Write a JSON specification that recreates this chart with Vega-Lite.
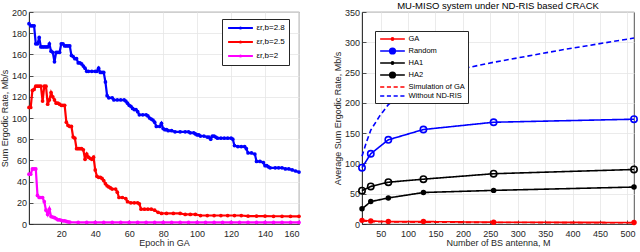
{
  "$schema": "https://vega.github.io/schema/vega-lite/v6.json",
  "padding": {"left": 0, "top": 0, "right": 2, "bottom": 0},
  "bounds": "flush",
  "spacing": 63,
  "background": "white",
  "resolve": {"scale": {"color": "independent", "strokeDash": "independent", "shape": "independent"}, "legend": {"color": "independent", "shape": "independent"}},
  "config": {
    "font": "Liberation Sans",
    "view": {"stroke": "#262626", "strokeWidth": 0.8},
    "axis": {
      "grid": true, "gridColor": "#e6e6e6", "gridWidth": 0.8,
      "domainColor": "#262626", "domainWidth": 0.8,
      "tickColor": "#262626", "tickSize": -4, "tickWidth": 0.8,
      "labelFontSize": 9, "labelColor": "#262626",
      "titleFontSize": 9, "titleFontWeight": "normal", "titleColor": "#262626"
    },
    "axisX": {"labelPadding": 9, "titlePadding": 0},
    "axisY": {"labelPadding": 6.5, "titlePadding": 2},
    "legend": {
      "strokeColor": "#262626", "fillColor": "white", "padding": 3,
      "labelFontSize": 7.5, "labelColor": "#000",
      "symbolStrokeWidth": 1.6, "title": null, "symbolSize": 56, "symbolOpacity": 1,
      "symbolOffset": 9.5, "labelOffset": 11
    },
    "title": {"fontSize": 9.5, "fontWeight": "normal", "color": "#000", "offset": -2}
  },
  "datasets": {
    "ga": [
      {"e":1,"v":189,"s":"εr,b=2.8"},{"e":2,"v":187,"s":"εr,b=2.8"},{"e":3,"v":187,"s":"εr,b=2.8"},{"e":4,"v":187,"s":"εr,b=2.8"},{"e":5,"v":170,"s":"εr,b=2.8"},{"e":6,"v":170,"s":"εr,b=2.8"},{"e":7,"v":176,"s":"εr,b=2.8"},{"e":8,"v":167,"s":"εr,b=2.8"},{"e":9,"v":167,"s":"εr,b=2.8"},{"e":10,"v":167,"s":"εr,b=2.8"},{"e":11,"v":167,"s":"εr,b=2.8"},{"e":12,"v":167,"s":"εr,b=2.8"},{"e":13,"v":170,"s":"εr,b=2.8"},{"e":14,"v":163,"s":"εr,b=2.8"},{"e":15,"v":162,"s":"εr,b=2.8"},{"e":16,"v":153,"s":"εr,b=2.8"},{"e":17,"v":162,"s":"εr,b=2.8"},{"e":18,"v":162,"s":"εr,b=2.8"},{"e":19,"v":162,"s":"εr,b=2.8"},{"e":20,"v":170,"s":"εr,b=2.8"},{"e":21,"v":170,"s":"εr,b=2.8"},{"e":22,"v":168,"s":"εr,b=2.8"},{"e":23,"v":168,"s":"εr,b=2.8"},{"e":24,"v":168,"s":"εr,b=2.8"},{"e":25,"v":168,"s":"εr,b=2.8"},{"e":26,"v":159,"s":"εr,b=2.8"},{"e":27,"v":158,"s":"εr,b=2.8"},{"e":28,"v":156,"s":"εr,b=2.8"},{"e":29,"v":156,"s":"εr,b=2.8"},{"e":30,"v":152,"s":"εr,b=2.8"},{"e":31,"v":152,"s":"εr,b=2.8"},{"e":32,"v":151,"s":"εr,b=2.8"},{"e":33,"v":149,"s":"εr,b=2.8"},{"e":34,"v":147,"s":"εr,b=2.8"},{"e":35,"v":144,"s":"εr,b=2.8"},{"e":36,"v":144,"s":"εr,b=2.8"},{"e":38,"v":144,"s":"εr,b=2.8"},{"e":40,"v":144,"s":"εr,b=2.8"},{"e":41,"v":144,"s":"εr,b=2.8"},{"e":42,"v":147,"s":"εr,b=2.8"},{"e":43,"v":143,"s":"εr,b=2.8"},{"e":44,"v":143,"s":"εr,b=2.8"},{"e":45,"v":143,"s":"εr,b=2.8"},{"e":46,"v":134,"s":"εr,b=2.8"},{"e":47,"v":121,"s":"εr,b=2.8"},{"e":48,"v":119,"s":"εr,b=2.8"},{"e":50,"v":119,"s":"εr,b=2.8"},{"e":51,"v":117,"s":"εr,b=2.8"},{"e":53,"v":117,"s":"εr,b=2.8"},{"e":55,"v":117,"s":"εr,b=2.8"},{"e":57,"v":117,"s":"εr,b=2.8"},{"e":58,"v":116,"s":"εr,b=2.8"},{"e":59,"v":114,"s":"εr,b=2.8"},{"e":60,"v":112,"s":"εr,b=2.8"},{"e":61,"v":111,"s":"εr,b=2.8"},{"e":62,"v":109,"s":"εr,b=2.8"},{"e":63,"v":108,"s":"εr,b=2.8"},{"e":64,"v":108,"s":"εr,b=2.8"},{"e":65,"v":106,"s":"εr,b=2.8"},{"e":66,"v":103,"s":"εr,b=2.8"},{"e":68,"v":103,"s":"εr,b=2.8"},{"e":70,"v":103,"s":"εr,b=2.8"},{"e":71,"v":102,"s":"εr,b=2.8"},{"e":72,"v":100,"s":"εr,b=2.8"},{"e":73,"v":99,"s":"εr,b=2.8"},{"e":74,"v":98,"s":"εr,b=2.8"},{"e":75,"v":96,"s":"εr,b=2.8"},{"e":76,"v":92,"s":"εr,b=2.8"},{"e":78,"v":92,"s":"εr,b=2.8"},{"e":79,"v":95,"s":"εr,b=2.8"},{"e":80,"v":90,"s":"εr,b=2.8"},{"e":81,"v":89,"s":"εr,b=2.8"},{"e":82,"v":89,"s":"εr,b=2.8"},{"e":83,"v":88,"s":"εr,b=2.8"},{"e":85,"v":88,"s":"εr,b=2.8"},{"e":87,"v":87,"s":"εr,b=2.8"},{"e":90,"v":87,"s":"εr,b=2.8"},{"e":93,"v":87,"s":"εr,b=2.8"},{"e":95,"v":87,"s":"εr,b=2.8"},{"e":96,"v":86,"s":"εr,b=2.8"},{"e":98,"v":86,"s":"εr,b=2.8"},{"e":99,"v":85,"s":"εr,b=2.8"},{"e":100,"v":84,"s":"εr,b=2.8"},{"e":101,"v":84,"s":"εr,b=2.8"},{"e":102,"v":83,"s":"εr,b=2.8"},{"e":104,"v":83,"s":"εr,b=2.8"},{"e":106,"v":82,"s":"εr,b=2.8"},{"e":107,"v":82,"s":"εr,b=2.8"},{"e":108,"v":80,"s":"εr,b=2.8"},{"e":109,"v":83,"s":"εr,b=2.8"},{"e":110,"v":83,"s":"εr,b=2.8"},{"e":111,"v":82,"s":"εr,b=2.8"},{"e":112,"v":81,"s":"εr,b=2.8"},{"e":114,"v":81,"s":"εr,b=2.8"},{"e":116,"v":81,"s":"εr,b=2.8"},{"e":118,"v":81,"s":"εr,b=2.8"},{"e":120,"v":81,"s":"εr,b=2.8"},{"e":121,"v":80,"s":"εr,b=2.8"},{"e":122,"v":74,"s":"εr,b=2.8"},{"e":124,"v":73,"s":"εr,b=2.8"},{"e":126,"v":73,"s":"εr,b=2.8"},{"e":128,"v":73,"s":"εr,b=2.8"},{"e":129,"v":71,"s":"εr,b=2.8"},{"e":130,"v":67,"s":"εr,b=2.8"},{"e":132,"v":67,"s":"εr,b=2.8"},{"e":134,"v":66,"s":"εr,b=2.8"},{"e":135,"v":59,"s":"εr,b=2.8"},{"e":137,"v":59,"s":"εr,b=2.8"},{"e":139,"v":58,"s":"εr,b=2.8"},{"e":140,"v":55,"s":"εr,b=2.8"},{"e":141,"v":55,"s":"εr,b=2.8"},{"e":142,"v":54,"s":"εr,b=2.8"},{"e":143,"v":53,"s":"εr,b=2.8"},{"e":146,"v":53,"s":"εr,b=2.8"},{"e":148,"v":53,"s":"εr,b=2.8"},{"e":150,"v":53,"s":"εr,b=2.8"},{"e":152,"v":52,"s":"εr,b=2.8"},{"e":154,"v":52,"s":"εr,b=2.8"},{"e":156,"v":51,"s":"εr,b=2.8"},{"e":158,"v":50,"s":"εr,b=2.8"},{"e":160,"v":49,"s":"εr,b=2.8"},

      {"e":1,"v":110,"s":"εr,b=2.5"},{"e":2,"v":110,"s":"εr,b=2.5"},{"e":3,"v":126,"s":"εr,b=2.5"},{"e":4,"v":127,"s":"εr,b=2.5"},{"e":5,"v":130,"s":"εr,b=2.5"},{"e":6,"v":130,"s":"εr,b=2.5"},{"e":7,"v":130,"s":"εr,b=2.5"},{"e":8,"v":130,"s":"εr,b=2.5"},{"e":9,"v":116,"s":"εr,b=2.5"},{"e":10,"v":130,"s":"εr,b=2.5"},{"e":11,"v":130,"s":"εr,b=2.5"},{"e":12,"v":113,"s":"εr,b=2.5"},{"e":13,"v":117,"s":"εr,b=2.5"},{"e":14,"v":124,"s":"εr,b=2.5"},{"e":15,"v":120,"s":"εr,b=2.5"},{"e":16,"v":117,"s":"εr,b=2.5"},{"e":17,"v":114,"s":"εr,b=2.5"},{"e":18,"v":114,"s":"εr,b=2.5"},{"e":19,"v":113,"s":"εr,b=2.5"},{"e":20,"v":112,"s":"εr,b=2.5"},{"e":21,"v":112,"s":"εr,b=2.5"},{"e":22,"v":112,"s":"εr,b=2.5"},{"e":23,"v":96,"s":"εr,b=2.5"},{"e":24,"v":93,"s":"εr,b=2.5"},{"e":25,"v":92,"s":"εr,b=2.5"},{"e":26,"v":92,"s":"εr,b=2.5"},{"e":27,"v":82,"s":"εr,b=2.5"},{"e":28,"v":81,"s":"εr,b=2.5"},{"e":29,"v":71,"s":"εr,b=2.5"},{"e":30,"v":71,"s":"εr,b=2.5"},{"e":31,"v":71,"s":"εr,b=2.5"},{"e":32,"v":71,"s":"εr,b=2.5"},{"e":33,"v":70,"s":"εr,b=2.5"},{"e":34,"v":61,"s":"εr,b=2.5"},{"e":35,"v":66,"s":"εr,b=2.5"},{"e":36,"v":63,"s":"εr,b=2.5"},{"e":37,"v":62,"s":"εr,b=2.5"},{"e":38,"v":61,"s":"εr,b=2.5"},{"e":39,"v":63,"s":"εr,b=2.5"},{"e":40,"v":51,"s":"εr,b=2.5"},{"e":41,"v":45,"s":"εr,b=2.5"},{"e":42,"v":44,"s":"εr,b=2.5"},{"e":43,"v":44,"s":"εr,b=2.5"},{"e":44,"v":43,"s":"εr,b=2.5"},{"e":45,"v":41,"s":"εr,b=2.5"},{"e":46,"v":38,"s":"εr,b=2.5"},{"e":47,"v":36,"s":"εr,b=2.5"},{"e":48,"v":35,"s":"εr,b=2.5"},{"e":49,"v":34,"s":"εr,b=2.5"},{"e":50,"v":33,"s":"εr,b=2.5"},{"e":52,"v":33,"s":"εr,b=2.5"},{"e":53,"v":30,"s":"εr,b=2.5"},{"e":54,"v":25,"s":"εr,b=2.5"},{"e":56,"v":25,"s":"εr,b=2.5"},{"e":58,"v":24,"s":"εr,b=2.5"},{"e":59,"v":21,"s":"εr,b=2.5"},{"e":61,"v":20,"s":"εr,b=2.5"},{"e":63,"v":20,"s":"εr,b=2.5"},{"e":65,"v":20,"s":"εr,b=2.5"},{"e":66,"v":19,"s":"εr,b=2.5"},{"e":67,"v":14,"s":"εr,b=2.5"},{"e":69,"v":14,"s":"εr,b=2.5"},{"e":71,"v":14,"s":"εr,b=2.5"},{"e":73,"v":14,"s":"εr,b=2.5"},{"e":75,"v":13,"s":"εr,b=2.5"},{"e":77,"v":11,"s":"εr,b=2.5"},{"e":79,"v":10,"s":"εr,b=2.5"},{"e":82,"v":10,"s":"εr,b=2.5"},{"e":86,"v":10,"s":"εr,b=2.5"},{"e":90,"v":10,"s":"εr,b=2.5"},{"e":93,"v":9,"s":"εr,b=2.5"},{"e":96,"v":9,"s":"εr,b=2.5"},{"e":99,"v":9,"s":"εr,b=2.5"},{"e":102,"v":8,"s":"εr,b=2.5"},{"e":106,"v":8,"s":"εr,b=2.5"},{"e":110,"v":8,"s":"εr,b=2.5"},{"e":114,"v":8,"s":"εr,b=2.5"},{"e":118,"v":8,"s":"εr,b=2.5"},{"e":122,"v":8,"s":"εr,b=2.5"},{"e":126,"v":8,"s":"εr,b=2.5"},{"e":130,"v":7.5,"s":"εr,b=2.5"},{"e":135,"v":7.5,"s":"εr,b=2.5"},{"e":140,"v":7.5,"s":"εr,b=2.5"},{"e":145,"v":7.3,"s":"εr,b=2.5"},{"e":150,"v":7.3,"s":"εr,b=2.5"},{"e":155,"v":7.2,"s":"εr,b=2.5"},{"e":160,"v":7.2,"s":"εr,b=2.5"},

      {"e":1,"v":47,"s":"εr,b=2"},{"e":2,"v":47,"s":"εr,b=2"},{"e":3,"v":52,"s":"εr,b=2"},{"e":4,"v":52,"s":"εr,b=2"},{"e":5,"v":52,"s":"εr,b=2"},{"e":6,"v":27,"s":"εr,b=2"},{"e":7,"v":25,"s":"εr,b=2"},{"e":8,"v":25,"s":"εr,b=2"},{"e":9,"v":25,"s":"εr,b=2"},{"e":10,"v":21,"s":"εr,b=2"},{"e":11,"v":13,"s":"εr,b=2"},{"e":12,"v":9,"s":"εr,b=2"},{"e":13,"v":14,"s":"εr,b=2"},{"e":14,"v":7,"s":"εr,b=2"},{"e":15,"v":6.5,"s":"εr,b=2"},{"e":16,"v":6,"s":"εr,b=2"},{"e":17,"v":5,"s":"εr,b=2"},{"e":18,"v":4,"s":"εr,b=2"},{"e":19,"v":4,"s":"εr,b=2"},{"e":20,"v":3.5,"s":"εr,b=2"},{"e":21,"v":3,"s":"εr,b=2"},{"e":22,"v":3,"s":"εr,b=2"},{"e":23,"v":2.5,"s":"εr,b=2"},{"e":24,"v":2,"s":"εr,b=2"},{"e":25,"v":1.8,"s":"εr,b=2"},{"e":30,"v":1.5,"s":"εr,b=2"},{"e":35,"v":1.5,"s":"εr,b=2"},{"e":40,"v":1.5,"s":"εr,b=2"},{"e":45,"v":1.5,"s":"εr,b=2"},{"e":50,"v":1.5,"s":"εr,b=2"},{"e":55,"v":1.5,"s":"εr,b=2"},{"e":60,"v":1.5,"s":"εr,b=2"},{"e":65,"v":1.5,"s":"εr,b=2"},{"e":70,"v":1.5,"s":"εr,b=2"},{"e":75,"v":1.5,"s":"εr,b=2"},{"e":80,"v":1.5,"s":"εr,b=2"},{"e":85,"v":1.5,"s":"εr,b=2"},{"e":90,"v":1.5,"s":"εr,b=2"},{"e":95,"v":1.5,"s":"εr,b=2"},{"e":100,"v":1.5,"s":"εr,b=2"},{"e":105,"v":1.5,"s":"εr,b=2"},{"e":110,"v":1.5,"s":"εr,b=2"},{"e":115,"v":1.5,"s":"εr,b=2"},{"e":120,"v":1.5,"s":"εr,b=2"},{"e":125,"v":1.5,"s":"εr,b=2"},{"e":130,"v":1.5,"s":"εr,b=2"},{"e":135,"v":1.5,"s":"εr,b=2"},{"e":140,"v":1.5,"s":"εr,b=2"},{"e":145,"v":1.5,"s":"εr,b=2"},{"e":150,"v":1.5,"s":"εr,b=2"},{"e":155,"v":1.5,"s":"εr,b=2"},{"e":160,"v":1.5,"s":"εr,b=2"}
    ],
    "ant": [
      {"m":16,"v":6,"s":"GA","mk":"filled"},{"m":32,"v":5,"s":"GA","mk":"filled"},{"m":64,"v":4,"s":"GA","mk":"filled"},{"m":128,"v":4,"s":"GA","mk":"filled"},{"m":256,"v":3,"s":"GA","mk":"filled"},{"m":512,"v":2.5,"s":"GA","mk":"filled"},
      {"m":16,"v":93,"s":"Random","mk":"open"},{"m":32,"v":116,"s":"Random","mk":"open"},{"m":64,"v":139,"s":"Random","mk":"open"},{"m":128,"v":156,"s":"Random","mk":"open"},{"m":256,"v":168,"s":"Random","mk":"open"},{"m":512,"v":173,"s":"Random","mk":"open"},
      {"m":16,"v":25,"s":"HA1","mk":"filled"},{"m":32,"v":37,"s":"HA1","mk":"filled"},{"m":64,"v":43,"s":"HA1","mk":"filled"},{"m":128,"v":52,"s":"HA1","mk":"filled"},{"m":256,"v":55.5,"s":"HA1","mk":"filled"},{"m":512,"v":61,"s":"HA1","mk":"filled"},
      {"m":16,"v":55,"s":"HA2","mk":"open"},{"m":32,"v":62,"s":"HA2","mk":"open"},{"m":64,"v":69,"s":"HA2","mk":"open"},{"m":128,"v":74,"s":"HA2","mk":"open"},{"m":256,"v":83,"s":"HA2","mk":"open"},{"m":512,"v":90,"s":"HA2","mk":"open"},
      {"m":16,"v":5,"s":"Simulation of GA","mk":"none"},{"m":32,"v":4,"s":"Simulation of GA","mk":"none"},{"m":64,"v":3.5,"s":"Simulation of GA","mk":"none"},{"m":128,"v":3,"s":"Simulation of GA","mk":"none"},{"m":256,"v":2.5,"s":"Simulation of GA","mk":"none"},{"m":512,"v":2,"s":"Simulation of GA","mk":"none"},
      {"m":16,"v":112,"s":"Without ND-RIS","mk":"none"},{"m":24,"v":135,"s":"Without ND-RIS","mk":"none"},{"m":32,"v":155,"s":"Without ND-RIS","mk":"none"},{"m":48,"v":178,"s":"Without ND-RIS","mk":"none"},{"m":64,"v":197,"s":"Without ND-RIS","mk":"none"},{"m":96,"v":220,"s":"Without ND-RIS","mk":"none"},{"m":128,"v":236,"s":"Without ND-RIS","mk":"none"},{"m":192,"v":255,"s":"Without ND-RIS","mk":"none"},{"m":256,"v":267,"s":"Without ND-RIS","mk":"none"},{"m":384,"v":288,"s":"Without ND-RIS","mk":"none"},{"m":512,"v":307,"s":"Without ND-RIS","mk":"none"}
    ]
  },
  "hconcat": [
    {
      "width": 270, "height": 212,
      "data": {"name": "ga"},
      "encoding": {
        "x": {"field": "e", "type": "quantitative", "title": "Epoch in GA",
              "scale": {"domain": [1, 160], "nice": false},
              "axis": {"values": [20,40,60,80,100,120,140,160]}},
        "y": {"field": "v", "type": "quantitative", "title": "Sum Ergodic Rate, Mb/s",
              "scale": {"domain": [0, 200], "nice": false},
              "axis": {"values": [0,20,40,60,80,100,120,140,160,180,200]}},
        "color": {"field": "s", "type": "nominal",
                  "scale": {"domain": ["εr,b=2.8","εr,b=2.5","εr,b=2"], "range": ["#0000ff","#ff0000","#ff00ff"]},
                  "legend": {"orient": "none", "legendX": 193, "legendY": 7, "rowPadding": 4, "padding": 4, "labelFontSize": 8,
                             "symbolStrokeWidth": 2, "symbolSize": 64,
                             "symbolType": "M-3.1,0H3.1M0.15,0A0.15,0.15,0,1,1,-0.15,0A0.15,0.15,0,1,1,0.15,0",
                             "encode": {"symbols": {"update": {"fill": {"value": "transparent"}}}}}}
      },
      "layer": [
        {"mark": {"type": "line", "strokeWidth": 2.2}},
        {"mark": {"type": "point", "filled": true, "size": 14, "opacity": 1}}
      ]
    },
    {
      "width": 272, "height": 212,
      "title": "MU-MISO system under ND-RIS based CRACK",
      "data": {"name": "ant"},
      "encoding": {
        "x": {"field": "m", "type": "quantitative", "title": "Number of BS antenna, M",
              "scale": {"domain": [16, 512], "nice": false},
              "axis": {"values": [50,100,150,200,250,300,350,400,450,500]}},
        "y": {"field": "v", "type": "quantitative", "title": "Average Sum Ergodic Rate,  Mb/s",
              "scale": {"domain": [0, 350], "nice": false},
              "axis": {"values": [0,50,100,150,200,250,300,350]}},
        "color": {"field": "s", "type": "nominal",
                  "scale": {"domain": ["GA","Random","HA1","HA2","Simulation of GA","Without ND-RIS"],
                            "range": ["#ff0000","#0000ff","#000000","#000000","#ff0000","#0000ff"]},
                  "legend": {"orient": "none", "legendX": 13, "legendY": 19, "rowPadding": 0,
                             "encode": {"symbols": {"update": {"fill": {"value": "transparent"}}}}}}
      },
      "layer": [
        {"mark": {"type": "line", "strokeWidth": 1.6},
         "encoding": {"strokeDash": {"field": "s", "type": "nominal",
                      "scale": {"domain": ["Without ND-RIS","Simulation of GA","HA2","HA1","Random","GA"],
                                "range": [[5,3],[5,3],[1,0],[1,0],[1,0],[1,0]]},
                      "legend": null}}},
        {"mark": {"type": "point", "filled": false, "strokeWidth": 1.6, "opacity": 0},
         "encoding": {
           "shape": {"field": "s", "type": "nominal",
                     "scale": {"domain": ["GA","Random","HA1","HA2","Simulation of GA","Without ND-RIS"],
                               "range": [
                                 "M-3.3,0H3.3M0.3,0A0.3,0.3,0,1,1,-0.3,0A0.3,0.3,0,1,1,0.3,0",
                                 "M-3.3,0H3.3M0.75,0A0.75,0.75,0,1,1,-0.75,0A0.75,0.75,0,1,1,0.75,0",
                                 "M-3.3,0H3.3M0.3,0A0.3,0.3,0,1,1,-0.3,0A0.3,0.3,0,1,1,0.3,0",
                                 "M-3.3,0H3.3M0.75,0A0.75,0.75,0,1,1,-0.75,0A0.75,0.75,0,1,1,0.75,0",
                                 "M-3.3,0H-2.2M-1.5,0H-0.4M0.3,0H1.4M2.1,0H3.2",
                                 "M-3.3,0H-2.2M-1.5,0H-0.4M0.3,0H1.4M2.1,0H3.2"]},
                     "legend": {"orient": "none", "legendX": 13, "legendY": 19, "rowPadding": 0,
                                "encode": {"symbols": {"update": {"fill": {"value": "transparent"}}}}}}
         }},
        {"transform": [{"filter": "datum.mk == 'filled'"}],
         "mark": {"type": "point", "filled": true, "size": 30, "opacity": 1, "shape": "circle"}},
        {"transform": [{"filter": "datum.mk == 'open'"}],
         "mark": {"type": "point", "filled": false, "size": 40, "strokeWidth": 1.6, "opacity": 1, "shape": "circle"}}
      ]
    }
  ]
}
